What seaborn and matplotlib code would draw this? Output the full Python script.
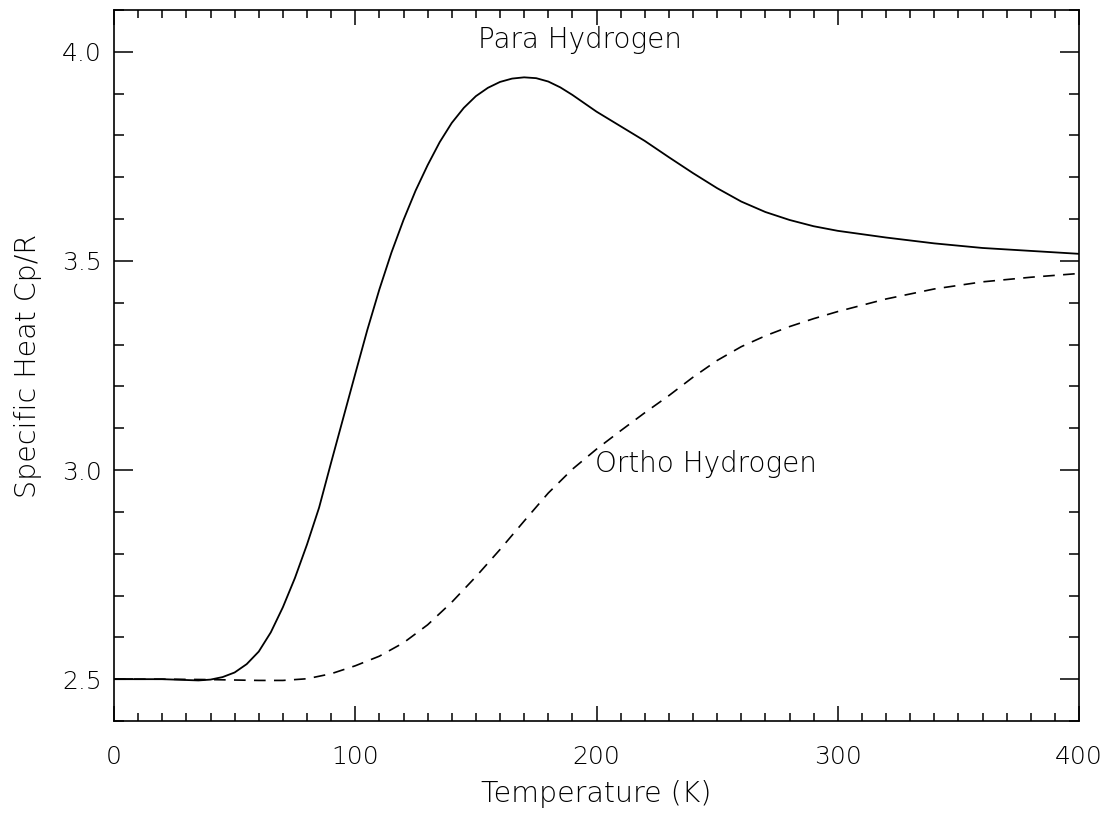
import numpy as np
import pandas as pd
import matplotlib
matplotlib.use("Agg")
import matplotlib.pyplot as plt
from matplotlib.ticker import MultipleLocator
import seaborn as sns

# ---- data ----
para_T = [0, 10, 20, 30, 35, 40, 45, 50, 55, 60, 65, 70, 75, 80, 85, 90, 95, 100,
          105, 110, 115, 120, 125, 130, 135, 140, 145, 150, 155, 160, 165, 170, 175,
          180, 185, 190, 200, 210, 220, 230, 240, 250, 260, 270, 280, 290, 300, 320,
          340, 360, 380, 400]
para_cp = [2.500, 2.500, 2.500, 2.498, 2.497, 2.499, 2.505, 2.516, 2.536, 2.566, 2.612,
           2.672, 2.742, 2.822, 2.910, 3.018, 3.124, 3.230, 3.335, 3.432, 3.520, 3.598,
           3.668, 3.729, 3.784, 3.830, 3.866, 3.894, 3.914, 3.928, 3.936, 3.939, 3.937,
           3.929, 3.915, 3.897, 3.857, 3.822, 3.787, 3.748, 3.710, 3.674, 3.642, 3.617,
           3.598, 3.583, 3.572, 3.556, 3.542, 3.531, 3.524, 3.517]

ortho_T = [0, 20, 40, 50, 60, 70, 80, 90, 100, 110, 120, 130, 140, 150, 160, 170, 180,
           190, 200, 210, 220, 230, 240, 250, 260, 270, 280, 290, 300, 320, 340, 360,
           380, 400]
ortho_cp = [2.500, 2.500, 2.499, 2.498, 2.497, 2.497, 2.501, 2.513, 2.532, 2.555, 2.587,
            2.630, 2.684, 2.745, 2.810, 2.878, 2.945, 3.002, 3.050, 3.094, 3.137, 3.178,
            3.222, 3.262, 3.295, 3.321, 3.343, 3.362, 3.379, 3.409, 3.433, 3.450, 3.461,
            3.470]

labels = ["Para Hydrogen", "Ortho Hydrogen"]
x_label = "Temperature (K)"
y_label = "Specific Heat Cp/R"

para_df = pd.DataFrame({"T": para_T, "cp": para_cp})
ortho_df = pd.DataFrame({"T": ortho_T, "cp": ortho_cp})

sns.set_theme(style="ticks")
plt.rcParams["font.family"] = ["DejaVu Sans"]
plt.rcParams["font.weight"] = "light"
plt.rcParams["axes.labelweight"] = "light"

fig = plt.figure(figsize=(11.12, 8.14), dpi=100)
ax = fig.add_axes([114/1112, 93/814, 965/1112, 711/814])

sns.lineplot(data=para_df, x="T", y="cp", ax=ax, color="black", lw=1.3,
             solid_joinstyle="round")
sns.lineplot(data=ortho_df, x="T", y="cp", ax=ax, color="black", lw=1.2,
             dashes=False, linestyle=(0, (7, 5)))

ax.set_xlim(0, 400)
ax.set_ylim(2.4, 4.1)
ax.xaxis.set_major_locator(MultipleLocator(100))
ax.xaxis.set_minor_locator(MultipleLocator(10))
ax.yaxis.set_major_locator(MultipleLocator(0.5))
ax.yaxis.set_minor_locator(MultipleLocator(0.1))
ax.yaxis.set_major_formatter(matplotlib.ticker.FormatStrFormatter("%.1f"))

ax.tick_params(axis="both", which="both", direction="in", top=True, right=True,
               color="black", width=1.1)
ax.tick_params(axis="x", which="major", length=11, pad=17, labelsize=18)
ax.tick_params(axis="x", which="minor", length=6)
ax.tick_params(axis="y", which="major", length=14, pad=9, labelsize=18)
ax.tick_params(axis="y", which="minor", length=7)
for s in ax.spines.values():
    s.set_color("black")
    s.set_linewidth(1.2)

ax.set_xlabel(x_label, fontsize=20.5, labelpad=8, color="black", fontweight="light")
ax.set_ylabel(y_label, fontsize=20.5, labelpad=14, color="black", fontweight="light")
for t in ax.get_xticklabels() + ax.get_yticklabels():
    t.set_color("black")

ax.text(193, 4.029, labels[0], fontsize=20, ha="center", va="center", color="black",
        fontweight="light")
ax.text(199.5, 3.014, labels[1], fontsize=20, ha="left", va="center", color="black",
        fontweight="light")

fig.savefig("out.png", dpi=100, facecolor="white")
